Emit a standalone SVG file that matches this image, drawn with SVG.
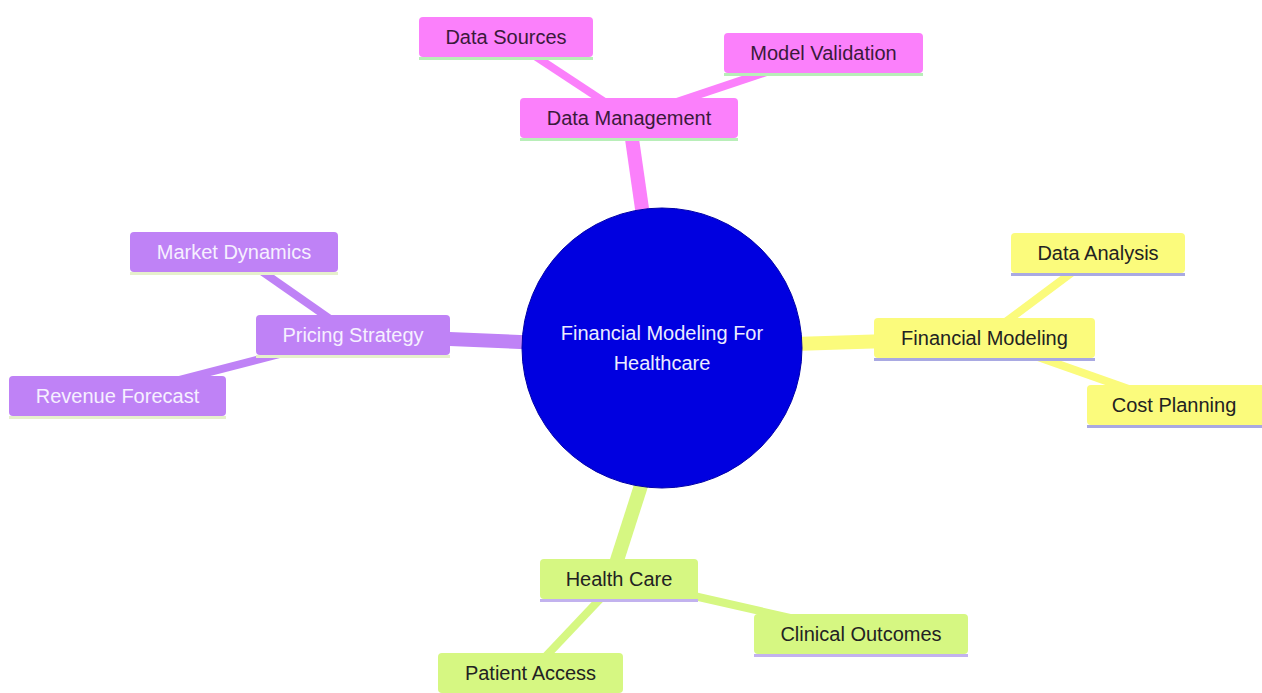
<svg xmlns="http://www.w3.org/2000/svg" width="1262" height="693" viewBox="0 0 1262 693">
<style>
text{font-family:"Liberation Sans",Arial,sans-serif;font-size:20px;text-anchor:middle;dominant-baseline:central}
.e0{stroke-width:14;stroke-linecap:butt;fill:none}
.e1{stroke-width:8;stroke-linecap:butt;fill:none}
.pink .box{fill:#fb80fb}.pink text{fill:#3a1a3a}.pink .ul{stroke:#b8eeb8}
.purp .box{fill:#bf82f6}.purp text{fill:#f6f0ff}.purp .ul{stroke:#e6f0cc}
.yel .box{fill:#fbfb7c}.yel text{fill:#222}.yel .ul{stroke:#a9a9e2}
.grn .box{fill:#d6f782}.grn text{fill:#222}.grn .ul{stroke:#c2b2ee}
.ul{stroke-width:3}
.ep{stroke:#fb80fb}.eu{stroke:#bf82f6}.ey{stroke:#fbfb7c}.eg{stroke:#d6f782}
</style>
<rect width="1262" height="693" fill="#ffffff"/>
<g id="connectors">
<line class="e0 ep" x1="629" y1="118" x2="662" y2="348"/>
<line class="e1 ep" x1="506" y1="37" x2="629" y2="118"/>
<line class="e1 ep" x1="823" y1="53" x2="629" y2="118"/>
<line class="e0 eu" x1="353" y1="335" x2="662" y2="348"/>
<line class="e1 eu" x1="234" y1="252" x2="353" y2="335"/>
<line class="e1 eu" x1="117" y1="396" x2="353" y2="335"/>
<line class="e0 ey" x1="984" y1="338" x2="662" y2="348"/>
<line class="e1 ey" x1="1098" y1="253" x2="984" y2="338"/>
<line class="e1 ey" x1="1174" y1="405" x2="984" y2="338"/>
<line class="e0 eg" x1="611" y1="579" x2="646" y2="470"/>
<line class="e1 eg" x1="619" y1="579" x2="530" y2="673"/>
<line class="e1 eg" x1="619" y1="579" x2="861" y2="634"/>
</g>
<g id="root">
<circle cx="662" cy="348" r="140" fill="#0000e0" stroke="#0000a8" stroke-width="1"/>
<text x="662" y="333" fill="#ececff">Financial Modeling For</text>
<text x="662" y="363" fill="#ececff">Healthcare</text>
</g>
<g id="data-management" class="pink">
<rect class="box" x="520" y="98" width="218" height="40" rx="4"/>
<line class="ul" x1="520" y1="139.5" x2="738" y2="139.5"/>
<text x="629" y="118">Data Management</text>
</g>
<g id="data-sources" class="pink">
<rect class="box" x="419" y="17" width="174" height="40" rx="4"/>
<line class="ul" x1="419" y1="58.5" x2="593" y2="58.5"/>
<text x="506" y="37">Data Sources</text>
</g>
<g id="model-validation" class="pink">
<rect class="box" x="724" y="33" width="199" height="40" rx="4"/>
<line class="ul" x1="724" y1="74.5" x2="923" y2="74.5"/>
<text x="823.5" y="53">Model Validation</text>
</g>
<g id="pricing-strategy" class="purp">
<rect class="box" x="256" y="315" width="194" height="40" rx="4"/>
<line class="ul" x1="256" y1="356.5" x2="450" y2="356.5"/>
<text x="353" y="335">Pricing Strategy</text>
</g>
<g id="market-dynamics" class="purp">
<rect class="box" x="130" y="232" width="208" height="40" rx="4"/>
<line class="ul" x1="130" y1="273.5" x2="338" y2="273.5"/>
<text x="234" y="252">Market Dynamics</text>
</g>
<g id="revenue-forecast" class="purp">
<rect class="box" x="9" y="376" width="217" height="40" rx="4"/>
<line class="ul" x1="9" y1="417.5" x2="226" y2="417.5"/>
<text x="117.5" y="396">Revenue Forecast</text>
</g>
<g id="financial-modeling" class="yel">
<rect class="box" x="874" y="318" width="221" height="40" rx="4"/>
<line class="ul" x1="874" y1="359.5" x2="1095" y2="359.5"/>
<text x="984.5" y="338">Financial Modeling</text>
</g>
<g id="data-analysis" class="yel">
<rect class="box" x="1011" y="233" width="174" height="40" rx="4"/>
<line class="ul" x1="1011" y1="274.5" x2="1185" y2="274.5"/>
<text x="1098" y="253">Data Analysis</text>
</g>
<g id="cost-planning" class="yel">
<rect class="box" x="1087" y="385" width="180" height="40" rx="4"/>
<line class="ul" x1="1087" y1="426.5" x2="1267" y2="426.5"/>
<text x="1174" y="405">Cost Planning</text>
</g>
<g id="health-care" class="grn">
<rect class="box" x="540" y="559" width="158" height="40" rx="4"/>
<line class="ul" x1="540" y1="600.5" x2="698" y2="600.5"/>
<text x="619" y="579">Health Care</text>
</g>
<g id="clinical-outcomes" class="grn">
<rect class="box" x="754" y="614" width="214" height="40" rx="4"/>
<line class="ul" x1="754" y1="655.5" x2="968" y2="655.5"/>
<text x="861" y="634">Clinical Outcomes</text>
</g>
<g id="patient-access" class="grn">
<rect class="box" x="438" y="653" width="185" height="40" rx="4"/>
<line class="ul" x1="438" y1="694.5" x2="623" y2="694.5"/>
<text x="530.5" y="673">Patient Access</text>
</g>
</svg>
